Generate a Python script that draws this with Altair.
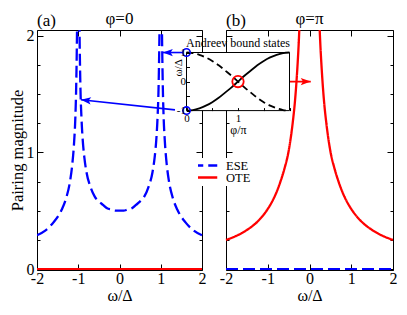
import altair as alt
import pandas as pd

FONT = "Liberation Serif"
BLUE = "#0000ff"
RED = "#ff0000"

# ---------------- data ----------------
# panel (a), phi = 0 : ESE magnitude
ese_a_omega = [-2.0, -1.8, -1.6, -1.4, -1.3, -1.2, -1.15, -1.1, -1.07, -1.05, -1.03, -1.0,
               -0.97, -0.95, -0.92, -0.9, -0.85, -0.8, -0.7, -0.6, -0.5, -0.4, -0.3, -0.2, -0.1,
               0.0, 0.1, 0.2, 0.3, 0.4, 0.5, 0.6, 0.7, 0.8, 0.85, 0.9, 0.92, 0.95, 0.97,
               1.0, 1.03, 1.05, 1.07, 1.1, 1.15, 1.2, 1.3, 1.4, 1.6, 1.8, 2.0]
ese_a_value = [0.29, 0.33, 0.40, 0.51, 0.60, 0.75, 0.88, 1.09, 1.30, 1.56, 2.03, 3.2,
               2.06, 1.60, 1.28, 1.15, 0.95, 0.83, 0.70, 0.62, 0.58, 0.55, 0.52, 0.51, 0.50,
               0.50, 0.50, 0.51, 0.52, 0.55, 0.58, 0.62, 0.70, 0.83, 0.95, 1.15, 1.28, 1.60, 2.06,
               3.2, 2.03, 1.56, 1.30, 1.09, 0.88, 0.75, 0.60, 0.51, 0.40, 0.33, 0.29]
ote_a_omega = [-2.0, 2.0]
ote_a_value = [0.0, 0.0]

# panel (b), phi = pi : OTE magnitude
ote_b_omega = [-2.0, -1.75, -1.5, -1.25, -1.0, -0.9, -0.8, -0.7, -0.6, -0.5, -0.4, -0.35,
               -0.3, -0.25, -0.2, -0.15, -0.1, 0.0, 0.1, 0.15, 0.2, 0.25, 0.3, 0.35, 0.4,
               0.5, 0.6, 0.7, 0.8, 0.9, 1.0, 1.25, 1.5, 1.75, 2.0]
ote_b_value = [0.25, 0.285, 0.335, 0.405, 0.515, 0.575, 0.65, 0.745, 0.86, 1.01, 1.26, 1.43,
               1.67, 2.0, 2.5, 3.3, 5.0, 8.0, 5.0, 3.3, 2.5, 2.0, 1.67, 1.43, 1.26,
               1.01, 0.86, 0.745, 0.65, 0.575, 0.515, 0.405, 0.335, 0.285, 0.25]
ese_b_omega = [-2.0, 2.0]
ese_b_value = [0.0, 0.0]

series_names = ["ESE", "OTE"]
series_colors = [BLUE, RED]
series_dashes = [[12, 5], [1, 0]]

# inset: Andreev bound states
abs_phi = [0, 0.125, 0.25, 0.375, 0.5, 0.625, 0.75, 0.875, 1.0,
           1.125, 1.25, 1.375, 1.5, 1.625, 1.75, 1.875, 2.0]
abs_solid = [-1.0, -0.98, -0.92, -0.83, -0.71, -0.56, -0.38, -0.2, 0.0,
             0.2, 0.38, 0.56, 0.71, 0.83, 0.92, 0.98, 1.0]
abs_dashed = [1.0, 0.98, 0.92, 0.83, 0.71, 0.56, 0.38, 0.2, 0.0,
              -0.2, -0.38, -0.56, -0.71, -0.83, -0.92, -0.98, -1.0]
blue_mark_phi = [0.0, 0.0]
blue_mark_omega = [1.0, -1.0]
red_mark_phi = [1.0]
red_mark_omega = [0.0]

panel_letters = ["(a)", "(b)"]
panel_phases = ["φ=0", "φ=π"]
inset_title = ["Andreev bound states"]

# arrows (start / tip in the panel's own data coordinates)
arrows_a_x = [1.515, 1.345]
arrows_a_y = [1.855, 1.3635]
arrows_a_x2 = [1.05, -0.935]
arrows_a_y2 = [1.855, 1.45]
arrows_a_ang = [180, 186]
arrows_b_x = [-1.569]
arrows_b_y = [1.606]
arrows_b_x2 = [0.03]
arrows_b_y2 = [1.606]
arrows_b_ang = [0]

main_x_ticks = [-2, -1, 0, 1, 2]
main_y_major = [0, 1, 2]
main_y_minor = [0.25, 0.5, 0.75, 1.25, 1.5, 1.75]

# ---------------- layout ----------------
W, H = 356, 240
XA_RANGE = [0, 165]
XB_RANGE = [189, 356]
Y_DOMAIN = [-0.008, 2.048]
XI_RANGE = [149.5, 252.5]
YI_RANGE = [80.6, 22.5]

ARROW = "M0,0L-1,-0.36L-0.78,0L-1,0.36Z"


def xscale(rng):
    return alt.Scale(domain=[-2, 2], range=rng, nice=False, zero=False)


def yscale():
    return alt.Scale(domain=Y_DOMAIN, range=[H, 0], nice=False, zero=False)


def ax(orient, values, size, labels=False, offset=0, title=None, **kw):
    args = dict(orient=orient, values=values, tickSize={"expr": str(-size)},
                labels=labels, offset=offset, grid=False, labelFlush=False,
                labelOverlap=False, title=title)
    args.update(kw)
    return alt.Axis(**args)


legend = alt.Legend(orient="none", legendX=159, legendY=128, title=None,
                    symbolType="M-3.25,0H3.25", symbolSize=64, symbolStrokeWidth=2.5,
                    labelFont=FONT, labelFontSize=12.5, labelColor="black",
                    labelOffset=15.5, fillColor="white", padding=2,
                    clipHeight=11, rowPadding={"expr": "-3"})


def series_df(parts):
    frames = []
    for name, om, val in parts:
        frames.append(pd.DataFrame({"omega": om, "value": val, "series": name}))
    return pd.concat(frames, ignore_index=True)


def panel(df, xr, letter, phase, arr, bottom_title, left_title, left_labels,
          left_off, right_off, arrow_color):
    color = alt.Color("series:N", scale=alt.Scale(domain=series_names, range=series_colors),
                      legend=legend)
    dash = alt.StrokeDash("series:N", scale=alt.Scale(domain=series_names, range=series_dashes),
                          legend=legend)
    lbl = dict(labelFont=FONT, labelFontSize=16, labelColor="black",
               titleFont=FONT, titleColor="black", titleFontWeight="normal")
    lines = alt.Chart(df).mark_line(strokeWidth=2.3, clip=True, interpolate="monotone").encode(
        x=alt.X("omega:Q", scale=xscale(xr),
                axis=ax("bottom", main_x_ticks, 6, labels=True, title=bottom_title,
                        labelPadding=6, titlePadding=1, titleFontSize=16,
                        labelExpr="'' + datum.value", **lbl)),
        y=alt.Y("value:Q", scale=yscale(),
                axis=ax("left", main_y_major, 6, labels=left_labels, offset=left_off,
                        title=left_title, labelPadding=9, titlePadding=1, titleFontSize=16.5,
                        labelExpr="'' + datum.value", **lbl)),
        color=color, strokeDash=dash)

    letter_df = pd.DataFrame({"x": [-2], "y": [Y_DOMAIN[1]], "t": [letter]})
    letter_l = alt.Chart(letter_df).mark_text(
        align="left", baseline="alphabetic", dy=-4, font=FONT, fontSize=17, color="black"
    ).encode(
        x=alt.X("x:Q", scale=xscale(xr), axis=ax("top", main_x_ticks, 6)),
        y=alt.Y("y:Q", scale=yscale(), axis=ax("right", main_y_major, 6, offset=right_off)),
        text="t:N")

    phase_df = pd.DataFrame({"x": [0], "y": [Y_DOMAIN[1]], "t": [phase]})
    phase_l = alt.Chart(phase_df).mark_text(
        align="center", baseline="alphabetic", dy=-6, font=FONT, fontSize=17, color="black"
    ).encode(
        x=alt.X("x:Q", scale=xscale(xr), axis=None),
        y=alt.Y("y:Q", scale=yscale(), axis=ax("left", main_y_minor, 3, offset=left_off,
                                                domain=False)),
        text="t:N")

    rule_l = alt.Chart(arr).mark_rule(color=arrow_color, strokeWidth=1.6).encode(
        x=alt.X("x:Q", scale=xscale(xr), axis=None),
        x2="x2:Q",
        y=alt.Y("y:Q", scale=yscale(), axis=ax("right", main_y_minor, 3, offset=right_off,
                                                domain=False)),
        y2="y2:Q")
    head_l = alt.Chart(arr).mark_point(shape=ARROW, filled=True, size=400, opacity=1,
                                       color=arrow_color, strokeWidth=0).encode(
        x=alt.X("x2:Q", scale=xscale(xr), axis=None),
        y=alt.Y("y2:Q", scale=yscale(), axis=None),
        angle=alt.Angle("ang:Q", scale=None))
    return alt.layer(lines, letter_l, phase_l, rule_l, head_l).resolve_axis(
        x="independent", y="independent")


df_a = series_df([("ESE", ese_a_omega, ese_a_value), ("OTE", ote_a_omega, ote_a_value)])
df_b = series_df([("ESE", ese_b_omega, ese_b_value), ("OTE", ote_b_omega, ote_b_value)])
arr_a = pd.DataFrame({"x": arrows_a_x, "y": arrows_a_y, "x2": arrows_a_x2,
                      "y2": arrows_a_y2, "ang": arrows_a_ang})
arr_b = pd.DataFrame({"x": arrows_b_x, "y": arrows_b_y, "x2": arrows_b_x2,
                      "y2": arrows_b_y2, "ang": arrows_b_ang})

panel_a = panel(df_a, XA_RANGE, panel_letters[0], panel_phases[0], arr_a, "ω/Δ",
                "Pairing magnitude", True, 0, -(W - XA_RANGE[1]), BLUE)
panel_b = panel(df_b, XB_RANGE, panel_letters[1], panel_phases[1], arr_b, "ω/Δ",
                None, False, -XB_RANGE[0], 0, RED)

# ---------------- inset ----------------
xi = alt.Scale(domain=[0, 2], range=XI_RANGE, nice=False, zero=False)
yi = alt.Scale(domain=[-1, 1], range=YI_RANGE, nice=False, zero=False)
ilbl = dict(labelFont=FONT, labelFontSize=11, labelColor="black", titleFont=FONT,
            titleColor="black", titleFontWeight="normal", zindex=1)

frame_df = pd.DataFrame({"x": [0], "x2": [2], "y": [-1], "y2": [1]})
frame = alt.Chart(frame_df).mark_rect(fill="white", stroke="black", strokeWidth=1).encode(
    x=alt.X("x:Q", scale=xi,
            axis=ax("bottom", [0, 0.5, 1, 1.5, 2], 3, labels=True, title="φ/π",
                    offset=-(H - YI_RANGE[0]), domain=False, labelPadding=5, titlePadding=1,
                    titleFontSize=12,
                    labelExpr="datum.value == 0 || datum.value == 1 ? '' + datum.value : ''",
                    **ilbl)),
    x2="x2:Q",
    y=alt.Y("y:Q", scale=yi,
            axis=ax("left", [-1, -0.5, 0, 0.5, 1], 3, labels=True, title="ω/Δ",
                    offset=-XI_RANGE[0], domain=False, labelPadding=4,
                    titleFontSize=11, titleX=-8, titleY=37.3, titleBaseline="middle",
                    labelExpr="datum.value % 1 == 0 ? '' + datum.value : ''", **ilbl)),
    y2="y2:Q")

abs_df = pd.DataFrame({"phi": abs_phi, "solid": abs_solid, "dashed": abs_dashed})
abs_solid_l = alt.Chart(abs_df).mark_line(color="black", strokeWidth=1.8,
                                          interpolate="monotone").encode(
    x=alt.X("phi:Q", scale=xi, axis=None), y=alt.Y("solid:Q", scale=yi, axis=None))
abs_dashed_l = alt.Chart(abs_df).mark_line(color="black", strokeWidth=1.8, strokeDash=[7, 4],
                                           interpolate="monotone").encode(
    x=alt.X("phi:Q", scale=xi, axis=None), y=alt.Y("dashed:Q", scale=yi, axis=None))

blue_df = pd.DataFrame({"phi": blue_mark_phi, "om": blue_mark_omega})
red_df = pd.DataFrame({"phi": red_mark_phi, "om": red_mark_omega})
blue_pts = alt.Chart(blue_df).mark_point(shape="circle", filled=False, size=55, color=BLUE,
                                         strokeWidth=1.6, opacity=1).encode(
    x=alt.X("phi:Q", scale=xi, axis=None), y=alt.Y("om:Q", scale=yi, axis=None))
red_pts = alt.Chart(red_df).mark_point(shape="circle", filled=False, size=130, color=RED,
                                       strokeWidth=1.8, opacity=1).encode(
    x=alt.X("phi:Q", scale=xi, axis=None), y=alt.Y("om:Q", scale=yi, axis=None))

ititle_df = pd.DataFrame({"x": [1], "y": [1], "t": inset_title})
ititle = alt.Chart(ititle_df).mark_text(align="center", baseline="alphabetic", dy=-5.5,
                                        font=FONT, fontSize=12, color="black").encode(
    x=alt.X("x:Q", scale=xi, axis=None), y=alt.Y("y:Q", scale=yi, axis=None), text="t:N")

inset = alt.layer(frame, abs_solid_l, abs_dashed_l, blue_pts, red_pts, ititle).resolve_axis(
    x="independent", y="independent")

chart = alt.layer(panel_a, panel_b, inset).resolve_scale(
    x="independent", y="independent", color="shared", strokeDash="shared"
).properties(
    width=W, height=H,
    autosize=alt.AutoSizeParams(type="none"),
    padding={"left": 29, "top": 22, "right": 6, "bottom": 36},
).configure(font=FONT).configure_view(stroke=None).configure_axis(
    grid=False, domainColor="black", tickColor="black", domainWidth=1, tickWidth=1,
    labelFont=FONT, titleFont=FONT
).configure_legend(labelFont=FONT).configure_text(font=FONT)

chart.save("out.html", embed_options={"renderer": "svg", "actions": False})
